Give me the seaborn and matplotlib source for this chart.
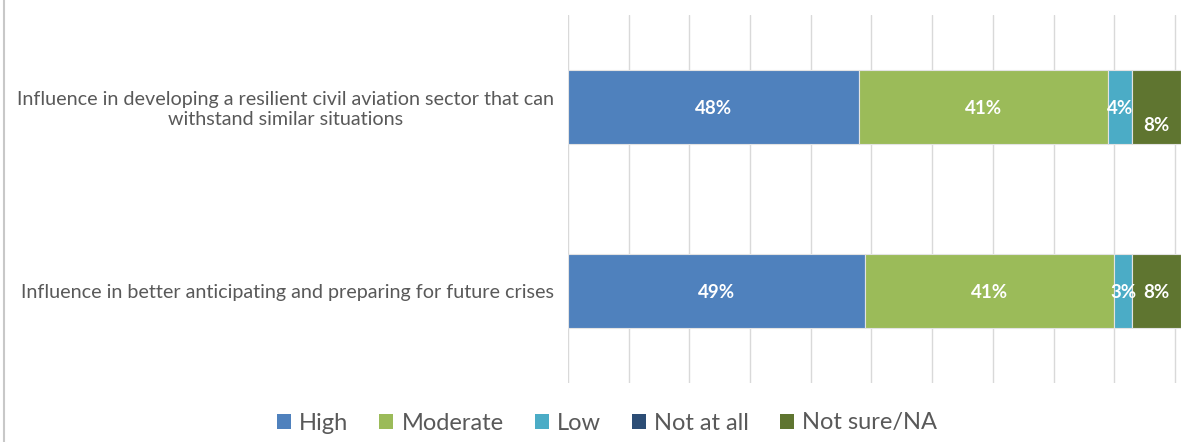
import numpy as np
import pandas as pd
import matplotlib
matplotlib.use("Agg")
import matplotlib.pyplot as plt
from matplotlib.patches import Patch
from matplotlib.lines import Line2D
import seaborn as sns

# Survey responses (percent of respondents)
categories = [
    "Influence in developing a resilient civil aviation sector that can\nwithstand similar situations",
    "Influence in better anticipating and preparing for future crises",
]
levels = ["High", "Moderate", "Low", "Not at all", "Not sure/NA"]
high = [48, 49]
moderate = [41, 41]
low = [4, 3]
not_at_all = [0, 0]
not_sure = [8, 8]

colors = ["#4F81BD", "#9BBB59", "#4BACC6", "#2C4D75", "#5F7530"]
text_gray = "#595959"

series = [high, moderate, low, not_at_all, not_sure]

sns.set_theme(style="white")
plt.rcParams["font.family"] = ["Lato", "DejaVu Sans"]

fig = plt.figure(figsize=(11.89, 4.42), dpi=100)
ax = fig.add_axes([568 / 1189, 1 - 383 / 442, (1181 - 568) / 1189, (383 - 15) / 442])

left = np.zeros(len(categories))
for name, vals, col in zip(levels, series, colors):
    df = pd.DataFrame({"category": categories, "value": vals})
    sns.barplot(data=df, y="category", x="value", order=categories, color=col,
                saturation=1, left=left, width=0.4, edgecolor="#e3e3e3",
                linewidth=0.8, ax=ax, zorder=3)
    cont = ax.containers[-1]
    for j, (bar, v) in enumerate(zip(cont, vals)):
        if v <= 0:
            continue
        cx = bar.get_x() + bar.get_width() / 2
        cy = bar.get_y() + bar.get_height() / 2
        # the last segment's label on the first row sits a little lower
        dy = 0.09 if (j == 0 and name == "Not sure/NA") else 0.0
        ax.text(cx, cy + dy + 0.01, f"{v}%", ha="center", va="center", color="white",
                fontsize=13.5, fontweight="bold", zorder=4)
    left = left + np.array(vals)

ax.set_xlim(0, 101)
ax.set_ylim(1.5, -0.5)
ax.set_xticks(np.arange(0, 101, 10))
ax.set_xticklabels([])
ax.tick_params(axis="x", length=0)
ax.tick_params(axis="y", length=0, pad=10, labelsize=14.2, labelcolor=text_gray)
for lbl in ax.get_yticklabels():
    lbl.set_multialignment("center")
ax.set_xlabel("")
ax.set_ylabel("")
ax.grid(axis="x", color="#d9d9d9", linewidth=1, zorder=0)
ax.grid(axis="y", visible=False)
for s in ax.spines.values():
    s.set_visible(False)

handles = [Patch(facecolor=c, edgecolor="none") for c in colors]
fig.legend(handles, levels, loc="center", bbox_to_anchor=(607 / 1189, 1 - 423 / 442),
           ncol=5, frameon=False, fontsize=17, labelcolor=text_gray,
           handlelength=0.6, handleheight=0.6, handletextpad=0.35, columnspacing=1.3)

fig.add_artist(Line2D([4 / 1189, 4 / 1189], [0, 1], transform=fig.transFigure,
                      color="#c8c8c8", linewidth=1.5))

fig.savefig("out.png", dpi=100, facecolor="white")
